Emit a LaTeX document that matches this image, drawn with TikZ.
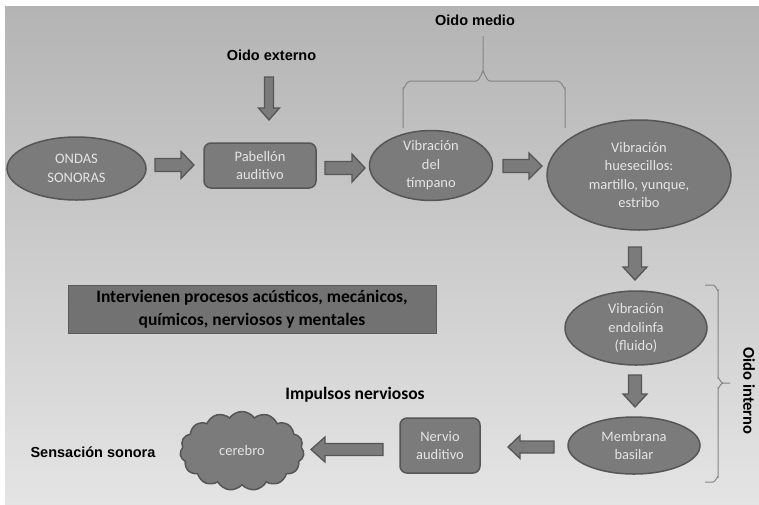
\documentclass[tikz,border=0pt]{standalone}
\usepackage{fontspec}
\setmainfont{Carlito}
\newfontfamily\lsans{Liberation Sans}
\usetikzlibrary{shapes.geometric,shapes.symbols,calc}
\definecolor{nf}{HTML}{7B7B7B}
\definecolor{bd}{HTML}{565656}
\definecolor{tx}{HTML}{E4E4E4}
\definecolor{bgt}{HTML}{B4B4B4}
\definecolor{bgb}{HTML}{E4E4E4}
\definecolor{bx}{HTML}{727272}
\definecolor{brc}{HTML}{858585}
\tikzset{
  nodebase/.style={draw=bd, fill=nf, line width=1.5pt, text=tx, align=center, inner sep=0pt,
    font=\fontsize{14.5}{18.5}\selectfont},
  ell/.style={nodebase, ellipse},
  rbox/.style={nodebase, rectangle, rounded corners=7pt},
  arrsty/.style={draw=bd, fill=nf, line width=1.3pt, line join=miter},
  lbl/.style={font=\lsans\bfseries\fontsize{14.5}{17}\selectfont, text=black, inner sep=0pt},
  clbl/.style={font=\bfseries\fontsize{17.5}{21}\selectfont, text=black, inner sep=0pt},
  brace/.style={draw=brc, line width=1pt},
}
\newcommand\barrow[5]{%
  \coordinate (#1-#2-h) at ($(#2)!#5!(#1)$);
  \draw[arrsty] ($(#1)!#3!90:(#2)$) -- ($(#1-#2-h)!#3!-90:(#1)$) -- ($(#1-#2-h)!#4!-90:(#1)$)
    -- (#2) -- ($(#1-#2-h)!#4!90:(#1)$) -- ($(#1-#2-h)!#3!90:(#1)$) -- ($(#1)!#3!-90:(#2)$) -- cycle;}
\begin{document}
\begin{tikzpicture}[x=1pt, y=-1pt]
\useasboundingbox (0,0) rectangle (759,504);
\fill[white] (0,0) rectangle (759,504);
\shade[top color=bgt, bottom color=bgb] (5,6) rectangle (759,504);

% main nodes
\node[ell, minimum width=139pt, minimum height=63pt] (ondas) at (76.5,168.5) {ONDAS\\SONORAS};
\node[rbox, minimum width=112pt, minimum height=45pt] (pab) at (260,165.5) {Pabellón\\auditivo};
\node[ell, minimum width=123pt, minimum height=64pt] (timp) at (431,165.5) {Vibración\\del\\tímpano};
\node[ell, minimum width=184pt, minimum height=110pt] (hues) at (639,175) {Vibración\\huesecillos:\\martillo, yunque,\\estribo};
\node[ell, minimum width=142pt, minimum height=74pt] (endo) at (636,328) {Vibración\\endolinfa\\(fluido)};
\node[ell, minimum width=132pt, minimum height=57pt] (memb) at (634,445.5) {Membrana\\basilar};
\node[rbox, minimum width=80pt, minimum height=55pt] (nerv) at (440,445.5) {Nervio\\auditivo};
\node[nodebase, cloud, cloud puffs=15, cloud puff arc=110, aspect=1.5,
      minimum width=124pt, minimum height=79pt] (cer) at (242,451) {cerebro};

% info box
\node[draw=bx!80!black, fill=bx, line width=0.8pt, minimum width=368pt, minimum height=48pt,
      inner sep=0pt, align=center, text=black, font=\bfseries\fontsize{17.5}{23}\selectfont]
      (info) at (252,309) {Intervienen procesos acústicos, mecánicos,\\químicos, nerviosos y mentales};

% labels
\node[lbl] (lext) at (271.5,55) {Oido externo};
\node[lbl] (lmed) at (475,20) {Oido medio};
\node[lbl] (lsen) at (93,452) {Sensación sonora};
\node[clbl] (limp) at (355,395) {Impulsos nerviosos};
\node[clbl, rotate=-90, font=\bfseries\fontsize{16.5}{20}\selectfont] (lint) at (749,391) {Oido interno};

% block arrows
\coordinate (a0s) at (269,77);   \coordinate (a0t) at (269,120);
\coordinate (a1s) at (155,165);  \coordinate (a1t) at (194,165);
\coordinate (a2s) at (325,168);  \coordinate (a2t) at (365,168);
\coordinate (a3s) at (503,166);  \coordinate (a3t) at (542,166);
\coordinate (d1s) at (635,247);  \coordinate (d1t) at (635,280);
\coordinate (d2s) at (635,375);  \coordinate (d2t) at (635,407);
\coordinate (l1s) at (554,447);  \coordinate (l1t) at (508,447);
\coordinate (l2s) at (383,449.5);\coordinate (l2t) at (311,449.5);
\barrow{a0s}{a0t}{4.5pt}{10.5pt}{12pt}
\barrow{a1s}{a1t}{6.5pt}{13.5pt}{13pt}
\barrow{a2s}{a2t}{6.5pt}{14pt}{13pt}
\barrow{a3s}{a3t}{6.5pt}{13pt}{13pt}
\barrow{d1s}{d1t}{6.5pt}{12pt}{13pt}
\barrow{d2s}{d2t}{6.5pt}{12pt}{13pt}
\barrow{l1s}{l1t}{6pt}{11.5pt}{12pt}
\barrow{l2s}{l2t}{6pt}{12.5pt}{14pt}

% braces
\draw[brace] (403,128) -- (403,88) to[out=-90,in=180] (410,81) -- (476,81) to[out=0,in=90] (483,72) -- (483,36);
\draw[brace] (565,128) -- (565,88) to[out=-90,in=0] (558,81) -- (490,81) to[out=180,in=90] (483,72);
\draw[brace] (705,285) -- (713,285) to[out=0,in=-90] (718,290) -- (718,378) to[out=90,in=180] (723,383) -- (730,383);
\draw[brace] (705,482) -- (713,482) to[out=0,in=90] (718,477) -- (718,388) to[out=-90,in=180] (723,383);
\end{tikzpicture}
\end{document}
